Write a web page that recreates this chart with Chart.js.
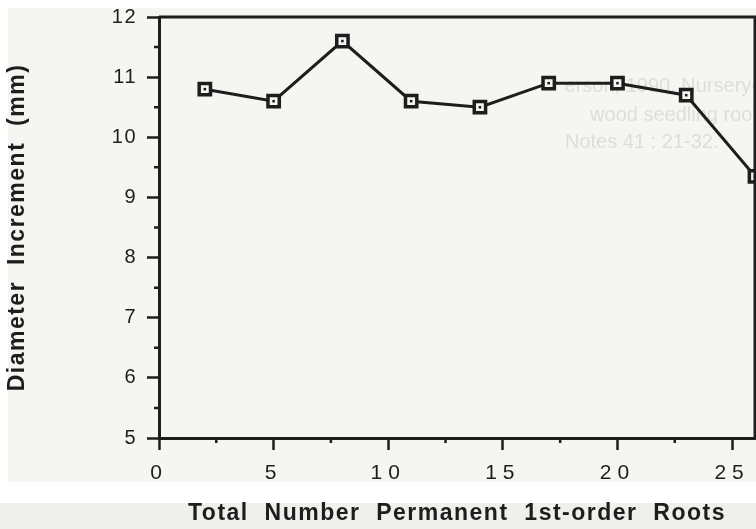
<!DOCTYPE html>
<html>
<head>
<meta charset="utf-8">
<title>Diameter increment by number of permanent roots</title>
<script src="https://cdn.jsdelivr.net/npm/chart.js@4.4.1/dist/chart.umd.min.js"></script>
<style>
html, body { margin: 0; padding: 0; background: #ffffff; }
#wrap { width: 756px; height: 529px; }
</style>
</head>
<body>
<div id="wrap"><canvas id="rootChart" width="756" height="529"></canvas></div>
<script>

// roots per seedling vs. diameter increment
const rootCounts = [2, 5, 8, 11, 14, 17, 20, 23, 26];
const diameterIncrement = [10.8, 10.6, 11.6, 10.6, 10.5, 10.9, 10.9, 10.7, 9.35];

const xTicks = [0, 5, 10, 15, 20, 25];
const yTicks = [5, 6, 7, 8, 9, 10, 11, 12];

// print showing through from the back of the page
const noteLines = ["erson, 1990. Nursery-", "wood seedling root", "Notes 41 : 21-32."];

const ink = "#1d1d1d";
const paper = "#f5f5f2";
const fontFamily = "'Liberation Sans', Arial, Helvetica, sans-serif";

const points = rootCounts.map((x, i) => ({ x: x, y: diameterIncrement[i] }));

function midpoints(list){

    const out = [];

    for(let i = 0; i < list.length - 1; i++){
        out.push((list[i] + list[i + 1]) / 2);
    }

    return out;
}

const paperPlugin = {

    id: "paper",

    afterLayout(chart){

        // the x numbers are typeset wide
        const xs = chart.scales.x;

        if(!xs._wide){

            const drawLabels = xs.drawLabels.bind(xs);

            xs.drawLabels = (area) => {
                chart.ctx.letterSpacing = "6px";
                drawLabels(area);
                chart.ctx.letterSpacing = "1.5px";
            };

            xs._wide = true;
        }
    },

    beforeDraw(chart){

        const ctx = chart.ctx;
        const w = chart.width;
        const h = chart.height;

        ctx.save();

        ctx.fillStyle = paper;
        ctx.fillRect(0, 0, w, h);

        // scan edges
        ctx.fillStyle = "#ffffff";
        ctx.fillRect(0, 0, w, 8);
        ctx.fillRect(0, 0, 8, 482);
        ctx.fillRect(0, 482, w, 21);

        ctx.fillStyle = "#efefec";
        ctx.fillRect(0, 503, w, h - 503);

        // faint text bleeding through
        ctx.fillStyle = "rgba(0,0,0,0.10)";
        ctx.font = "20px " + fontFamily;
        ctx.textBaseline = "middle";
        ctx.textAlign = "right";
        ctx.fillText(noteLines[0], 758, 86);
        ctx.fillText(noteLines[1], 758, 115);
        ctx.textAlign = "left";
        ctx.fillText(noteLines[2], 565, 142);

        ctx.restore();

        ctx.letterSpacing = "1.5px";
    }
};

const framePlugin = {

    id: "frame",

    afterDraw(chart){

        const ctx = chart.ctx;
        const area = chart.chartArea;
        const xs = chart.scales.x;
        const ys = chart.scales.y;

        ctx.save();
        ctx.strokeStyle = ink;
        ctx.lineCap = "butt";

        // top and right of the box
        ctx.lineWidth = 3;
        ctx.beginPath();
        ctx.moveTo(area.left, area.top);
        ctx.lineTo(area.right, area.top);
        ctx.lineTo(area.right, area.bottom);
        ctx.stroke();

        // short minor ticks
        ctx.lineWidth = 2.5;
        ctx.beginPath();

        midpoints(xTicks).forEach(v => {
            const px = xs.getPixelForValue(v);
            ctx.moveTo(px, area.bottom);
            ctx.lineTo(px, area.bottom + 5);
        });

        midpoints(yTicks).forEach(v => {
            const py = ys.getPixelForValue(v);
            ctx.moveTo(area.left, py);
            ctx.lineTo(area.left - 5, py);
        });

        ctx.stroke();
        ctx.restore();
    }
};

function noEdgePadding(scale){

    scale.paddingLeft = 0;
    scale.paddingRight = 0;
    scale.paddingTop = 0;
    scale.paddingBottom = 0;
}

const chart = new Chart(document.getElementById("rootChart"), {

    type: "line",

    data: {

        datasets: [
            {
                // small dot inside each square marker
                data: points,
                order: 0,
                showLine: false,
                pointStyle: "rect",
                pointRadius: 1.8,
                pointBorderWidth: 0,
                pointBackgroundColor: ink
            },
            {
                data: points,
                order: 1,
                borderColor: ink,
                borderWidth: 3,
                tension: 0,
                pointStyle: "rect",
                pointRadius: 8,
                pointBorderWidth: 3.5,
                pointBorderColor: ink,
                pointBackgroundColor: paper
            }
        ]
    },

    options: {

        responsive: false,
        animation: false,
        events: [],

        layout: {
            autoPadding: false,
            padding: { top: 17, right: 1, left: 0, bottom: 0 }
        },

        plugins: {
            legend: { display: false },
            tooltip: { enabled: false }
        },

        scales: {

            x: {
                type: "linear",
                min: 0,
                max: 26,
                afterBuildTicks: (scale) => {
                    scale.ticks = xTicks.map(v => ({ value: v }));
                },
                afterFit: (scale) => {
                    scale.height = 91;
                    noEdgePadding(scale);
                },
                ticks: {
                    color: ink,
                    padding: 11,
                    maxRotation: 0,
                    font: { family: fontFamily, size: 21 }
                },
                grid: {
                    drawOnChartArea: false,
                    drawTicks: true,
                    tickLength: 12,
                    tickWidth: 2.5,
                    tickColor: ink
                },
                border: { display: true, color: ink, width: 3 },
                title: {
                    display: true,
                    text: "Total  Number  Permanent  1st-order  Roots",
                    color: ink,
                    padding: { top: 0, bottom: 2 },
                    font: { family: fontFamily, size: 23, weight: "bold" }
                }
            },

            y: {
                type: "linear",
                min: 5,
                max: 12,
                afterBuildTicks: (scale) => {
                    scale.ticks = yTicks.map(v => ({ value: v }));
                },
                afterFit: (scale) => {
                    scale.width = 159;
                    noEdgePadding(scale);
                },
                ticks: {
                    color: ink,
                    padding: 10,
                    font: { family: fontFamily, size: 20 }
                },
                grid: {
                    drawOnChartArea: false,
                    drawTicks: true,
                    tickLength: 12,
                    tickWidth: 2.5,
                    tickColor: ink
                },
                border: { display: true, color: ink, width: 3 },
                title: {
                    display: true,
                    text: "Diameter  Increment  (mm)",
                    color: ink,
                    padding: { top: 4, bottom: 0 },
                    font: { family: fontFamily, size: 23, weight: "bold" }
                }
            }
        }
    },

    plugins: [paperPlugin, framePlugin]
});

</script>
</body>
</html>
